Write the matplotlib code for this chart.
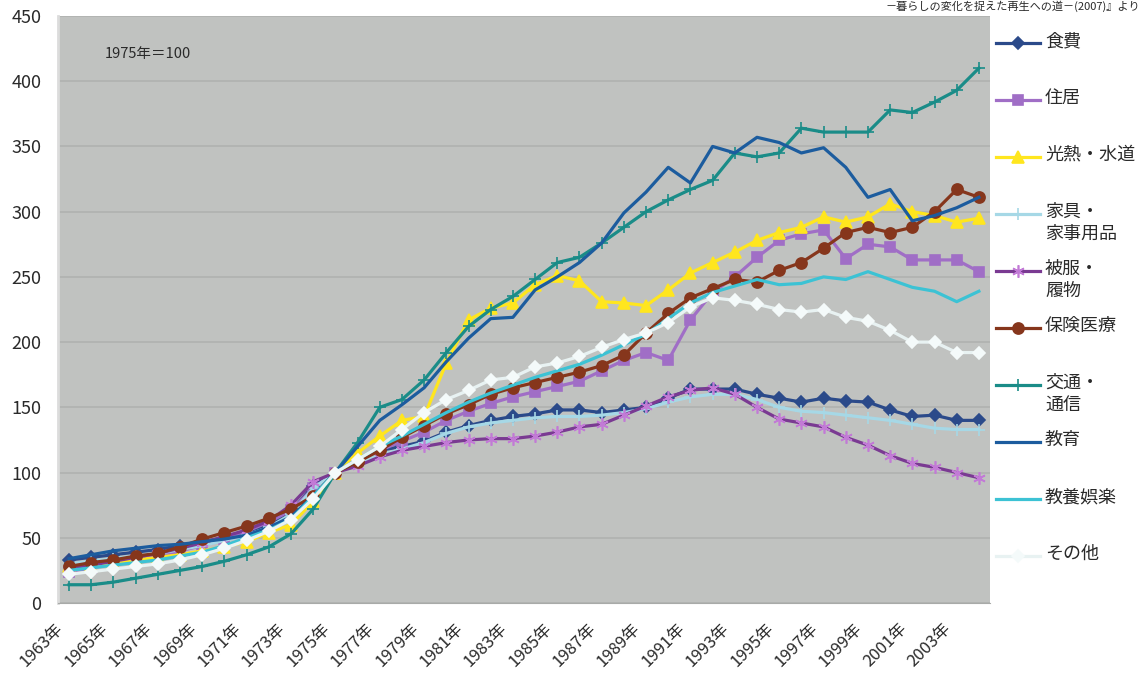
import matplotlib
matplotlib.use("Agg")
import matplotlib.pyplot as plt
from matplotlib.transforms import ScaledTranslation

plt.rcParams['font.family'] = ['Noto Sans CJK JP', 'DejaVu Sans']

years = list(range(1963, 2005))

food = [33, 35, 37, 39, 41, 44, 47, 50, 54, 60, 70, 90, 100, 110, 117, 120, 124, 131, 136, 140, 143,
        145, 148, 148, 146, 148, 150, 157, 164, 164, 164, 160, 157, 154, 157, 155, 154, 148, 143, 144, 140, 140]
housing = [24, 27, 30, 33, 36, 40, 44, 49, 55, 62, 71, 88, 100, 110, 117, 124, 131, 140, 147, 153, 158,
           162, 166, 170, 178, 186, 192, 186, 217, 238, 250, 265, 278, 283, 286, 264, 275, 273, 263, 263, 263, 254]
utilities = [28, 29, 31, 33, 35, 37, 40, 43, 47, 54, 60, 78, 100, 115, 128, 140, 143, 184, 217, 226, 230,
             244, 251, 247, 231, 230, 228, 240, 253, 261, 269, 278, 284, 288, 296, 292, 296, 306, 300, 297, 292, 295]
furniture = [30, 32, 34, 36, 38, 41, 44, 48, 52, 58, 68, 88, 100, 107, 113, 118, 123, 130, 135, 138, 140,
             142, 143, 143, 144, 146, 149, 154, 158, 160, 160, 156, 150, 147, 146, 144, 142, 140, 137, 134, 133, 133]
clothing = [27, 29, 32, 35, 38, 42, 46, 51, 56, 63, 75, 93, 100, 105, 112, 117, 120, 123, 125, 126, 126,
            128, 131, 135, 137, 144, 151, 158, 163, 165, 160, 150, 141, 138, 135, 127, 121, 113, 107, 104, 100, 96]
medical = [28, 31, 33, 36, 38, 43, 49, 54, 59, 65, 72, 82, 100, 108, 117, 127, 136, 145, 152, 160, 165,
           169, 173, 177, 182, 190, 207, 222, 234, 241, 248, 246, 255, 261, 272, 284, 288, 284, 288, 300, 317, 311]
transport = [14, 14, 16, 19, 22, 25, 28, 32, 37, 43, 53, 72, 100, 123, 150, 156, 171, 192, 212, 225, 235,
             248, 261, 265, 276, 288, 300, 309, 317, 324, 345, 342, 345, 364, 361, 361, 361, 378, 376, 384, 393, 410]
education = [34, 37, 40, 42, 44, 45, 47, 49, 52, 58, 66, 82, 100, 120, 140, 152, 165, 185, 203, 218, 219,
             240, 250, 261, 276, 299, 315, 334, 322, 350, 345, 357, 353, 345, 349, 334, 311, 317, 293, 297, 303, 311]
recreation = [25, 27, 29, 31, 33, 36, 39, 44, 50, 56, 64, 82, 100, 110, 120, 128, 137, 146, 154, 161, 167,
              173, 178, 183, 190, 198, 206, 218, 230, 238, 243, 248, 244, 245, 250, 248, 254, 248, 242, 239, 231, 239]
other = [22, 24, 26, 28, 30, 33, 37, 42, 48, 55, 64, 80, 100, 110, 120, 133, 146, 156, 163, 171, 173,
         181, 184, 189, 196, 202, 207, 215, 227, 234, 232, 229, 225, 223, 225, 219, 216, 209, 200, 200, 192, 192]

labels = ['食費', '住居', '光熱・水道', '家具・\n家事用品', '被服・\n履物', '保険医療',
          '交通・\n通信', '教育', '教養娯楽', 'その他']
series = [food, housing, utilities, furniture, clothing, medical, transport, education, recreation, other]

# line colour, marker, marker face, marker size
styles = [
    ('#2b4a8a', 'D', '#2b4a8a', 6.5),
    ('#a06ec6', 's', '#a06ec6', 7),
    ('#ffe61e', '^', '#ffe61e', 8),
    ('#a6d8e6', '+', '#a6d8e6', 8),
    ('#7a3a92', (6, 2, 0), '#c27ad6', 9),
    ('#86361c', 'o', '#86361c', 8),
    ('#1a8c88', '+', '#1a8c88', 9),
    ('#1c5c9e', None, None, 0),
    ('#3cc2d4', None, None, 0),
    ('#e8f2f2', 'D', '#f4fafa', 6.5),
]
textcol = '#2a2a2a'

fig = plt.figure(figsize=(11.46, 6.82), dpi=100, facecolor='white')
ax = fig.add_axes([58 / 1146, 79 / 682, 932 / 1146, 587 / 682])
ax.set_facecolor('#c0c2c0')

x = list(range(len(years)))
for vals, (col, mk, mfc, ms) in zip(series, styles):
    ax.plot(x, vals, color=col, lw=2.3, marker=mk, markersize=ms,
            markerfacecolor=mfc, markeredgecolor=mfc, markeredgewidth=1.2)

ax.set_xlim(-0.5, len(years) - 0.5)
ax.set_ylim(0, 450)
ax.set_yticks(range(0, 451, 50))
ax.yaxis.grid(True, color='#b0b2b0', lw=1.2)
ax.set_axisbelow(True)
ax.tick_params(axis='y', length=0, pad=12, labelsize=13, labelcolor=textcol)
ax.set_xticks(x[::2])
ax.set_xticklabels([f'{y}年' for y in years[::2]], rotation=45, ha='right',
                   rotation_mode='anchor', fontsize=12, color=textcol)
ax.tick_params(axis='x', length=0, pad=12)
# pull the slanted year labels a little to the left of their ticks
shift = ScaledTranslation(-14 / 100, 0, fig.dpi_scale_trans)
for t in ax.get_xticklabels():
    t.set_transform(t.get_transform() + shift)
for s in ['top', 'right']:
    ax.spines[s].set_visible(False)
ax.spines['left'].set_color('#dcdcdc')
ax.spines['left'].set_linewidth(2)
ax.spines['bottom'].set_color('#a8aaa8')

ax.text(0.05, 0.935, '1975年＝100', transform=ax.transAxes, fontsize=10.5,
        color=textcol, va='center')

fig.text(0.995, 0.999, '－暮らしの変化を捉えた再生への道－(2007)』より', ha='right', va='top',
         fontsize=8, color=textcol)

# legend drawn on an overlay in pixel units
lax = fig.add_axes([0, 0, 1, 1])
lax.set_xlim(0, 1146)
lax.set_ylim(682, 0)
lax.axis('off')
for k, (lab, (col, mk, mfc, ms)) in enumerate(zip(labels, styles)):
    yy = 43 + 57 * k
    lax.plot([996, 1040], [yy, yy], color=col, lw=2.3)
    if mk is not None:
        lax.plot([1018], [yy], marker=mk, markersize=ms, color=col, markerfacecolor=mfc,
                 markeredgecolor=mfc, markeredgewidth=1.2)
    lax.text(1045, yy - 11, lab, fontsize=13, color=textcol, va='top', linespacing=1.25)

fig.savefig('out.png', dpi=100, facecolor='white')
